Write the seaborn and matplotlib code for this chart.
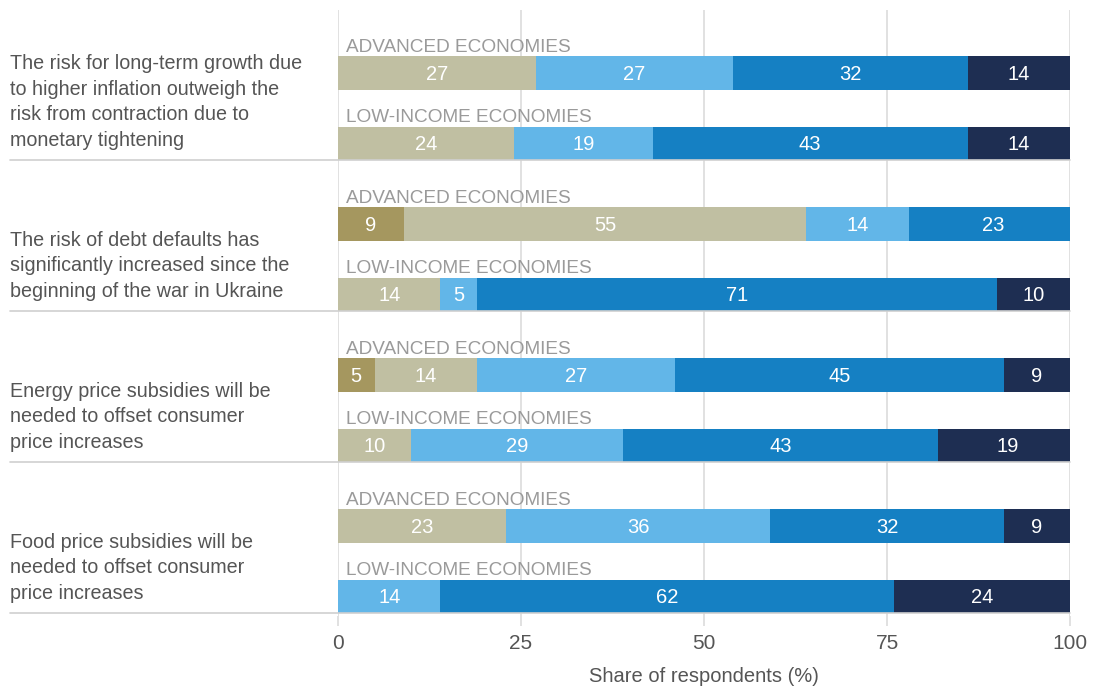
import numpy as np
import pandas as pd
import matplotlib
matplotlib.use("Agg")
import matplotlib.pyplot as plt
import matplotlib.transforms as mtransforms
import seaborn as sns

# ---- data -------------------------------------------------------------
statements = [
    "The risk for long-term growth due\nto higher inflation outweigh the\nrisk from contraction due to\nmonetary tightening",
    "The risk of debt defaults has\nsignificantly increased since the\nbeginning of the war in Ukraine",
    "Energy price subsidies will be\nneeded to offset consumer\nprice increases",
    "Food price subsidies will be\nneeded to offset consumer\nprice increases",
]
economy_groups = ["ADVANCED ECONOMIES", "LOW-INCOME ECONOMIES"]

# one entry per bar: statement 1 (adv, low), statement 2 (adv, low), ...
strongly_disagree = [0, 0, 9, 0, 5, 0, 0, 0]
disagree = [27, 24, 55, 14, 14, 10, 23, 0]
neutral = [27, 19, 14, 5, 27, 29, 36, 14]
agree = [32, 43, 23, 71, 45, 43, 32, 62]
strongly_agree = [14, 14, 0, 10, 9, 19, 9, 24]

responses = ["Strongly disagree", "Disagree", "Neutral", "Agree", "Strongly agree"]
response_values = [strongly_disagree, disagree, neutral, agree, strongly_agree]
response_colors = ["#a5975f", "#c0bfa2", "#62b6e8", "#1580c3", "#1e2e52"]

x_ticks = [0, 25, 50, 75, 100]
x_label = "Share of respondents (%)"

# ---- layout -----------------------------------------------------------
PAIR_OFFSET = 0.464     # distance between the two bars of one statement
BAR_HEIGHT = 0.219
positions = []
for g in range(len(statements)):
    for k in range(len(economy_groups)):
        positions.append(g + k * PAIR_OFFSET)
positions = np.array(positions)

vals = np.array(response_values, dtype=float)          # (5, 8)
cum_end = np.cumsum(vals, axis=0)
cum_start = cum_end - vals

rows = []
for r, name in enumerate(responses):
    for i, p in enumerate(positions):
        rows.append({"response": name, "pos": p, "end": cum_end[r, i]})
df = pd.DataFrame(rows)

sns.set_theme(style="white")
plt.rcParams["font.family"] = ["Liberation Sans", "DejaVu Sans"]

W, H = 1094, 687
fig = plt.figure(figsize=(W / 100, H / 100), dpi=100)
ax = fig.add_axes([338 / W, 1 - 616 / H, 732 / W, 606 / H])

# stacked bars: draw cumulative ends from the outermost layer inwards
for r in reversed(range(len(responses))):
    sub = df[df["response"] == responses[r]]
    sns.barplot(data=sub, x="end", y="pos", orient="h", native_scale=True,
                color=response_colors[r], saturation=1, width=BAR_HEIGHT / PAIR_OFFSET,
                errorbar=None, linewidth=0, ax=ax, zorder=2)

ax.set_xlim(0, 100)
ax.set_ylim(3.596, -0.417)

# value labels
for r in range(len(responses)):
    for i, p in enumerate(positions):
        v = vals[r, i]
        if v <= 0:
            continue
        ax.text(cum_start[r, i] + v / 2, p + 0.01, f"{int(v)}", ha="center", va="center",
                color="white", fontsize=14.5, zorder=5)

# economy group captions above each bar
for i, p in enumerate(positions):
    ax.text(1.1, p - BAR_HEIGHT / 2 - 0.027, economy_groups[i % 2], ha="left",
            va="baseline", color="#9a9a9a", fontsize=13.7, zorder=5)

blend = mtransforms.blended_transform_factory(ax.transAxes, ax.transData)
left_edge = (10 - 338) / 732
for g, text in enumerate(statements):
    sep = g + PAIR_OFFSET + BAR_HEIGHT / 2
    ax.plot([left_edge, 1], [sep, sep], transform=blend, clip_on=False,
            color="#cfcfcf", lw=1.2, zorder=3)
    ax.text(left_edge, sep - 0.066, text, transform=blend, ha="left", va="bottom",
            color="#555555", fontsize=14.2, linespacing=1.43)

ax.set_xticks(x_ticks)
ax.set_xticklabels([str(t) for t in x_ticks])
ax.set_yticks([])
ax.set_ylabel("")
ax.set_xlabel(x_label, fontsize=14.5, color="#555555", labelpad=10)
ax.grid(axis="x", color="#dcdcdc", lw=1.2, zorder=0)
ax.grid(axis="y", visible=False)
ax.set_axisbelow(True)
ax.tick_params(axis="x", length=7, width=1.2, color="#dcdcdc", labelsize=15,
               labelcolor="#555555", pad=6, bottom=True)
for s in ax.spines.values():
    s.set_visible(False)

fig.savefig("out.png", dpi=100, facecolor="white")
